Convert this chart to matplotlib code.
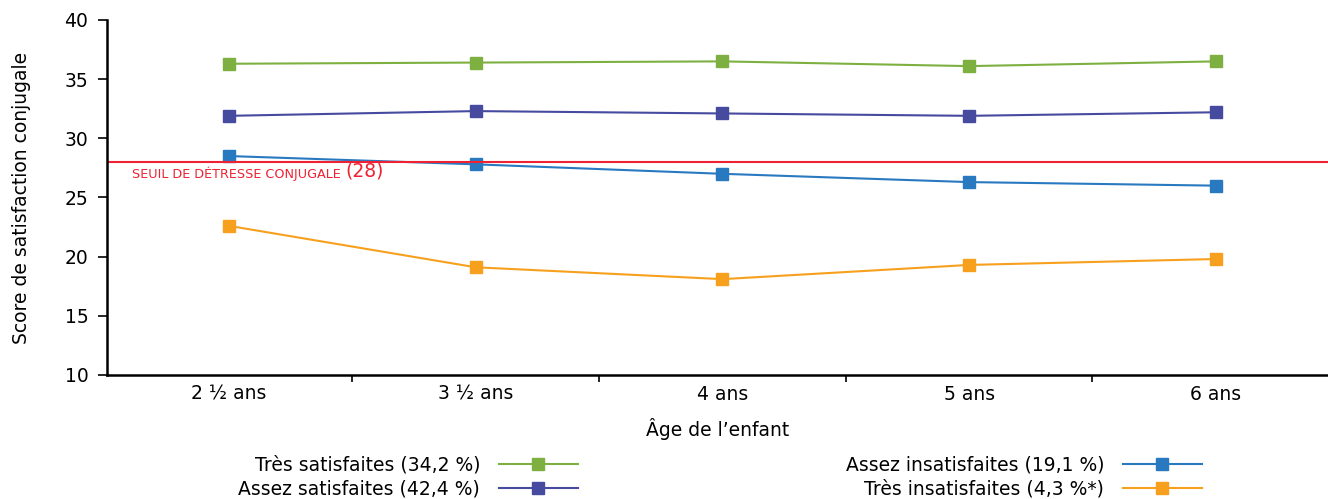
import numpy as np
import matplotlib.pyplot as plt

ages = ["2 ½ ans", "3 ½ ans", "4 ans", "5 ans", "6 ans"]

tres_satisfaites = [36.3, 36.4, 36.5, 36.1, 36.5]
assez_satisfaites = [31.9, 32.3, 32.1, 31.9, 32.2]
assez_insatisfaites = [28.5, 27.8, 27.0, 26.3, 26.0]
tres_insatisfaites = [22.6, 19.1, 18.1, 19.3, 19.8]

labels = ["Très satisfaites (34,2 %)", "Assez satisfaites (42,4 %)",
          "Assez insatisfaites (19,1 %)", "Très insatisfaites (4,3 %*)"]
colors = ["#7EB041", "#474BA0", "#2979C1", "#F6A01E"]
seuil = 28

plt.rcParams['font.family'] = ['DejaVu Sans']
fs = 13.5

fig = plt.figure(figsize=(13.28, 4.99), dpi=100)
ax = fig.add_axes([0.0806, 0.2485, 0.9194, 0.7115])

x = np.arange(len(ages))
series = [tres_satisfaites, assez_satisfaites, assez_insatisfaites, tres_insatisfaites]
handles = []
for vals, c, lab in zip(series, colors, labels):
    h, = ax.plot(x, vals, color=c, lw=1.5, marker='s', ms=8.5, label=lab)
    handles.append(h)

ax.axhline(seuil, color="#EE2233", lw=1.5)
t1 = ax.text(-0.393, seuil - 0.35, "SEUIL DE DÉTRESSE CONJUGALE ", color="#EE2233",
             fontsize=9.2, va='top', ha='left')
ax.annotate("(28)", xy=(1, 0), xycoords=t1, color="#EE2233", fontsize=fs,
            va='bottom', ha='left')

ax.set_xlim(-0.495, 4.455)
ax.set_ylim(10, 40)
ax.set_yticks(range(10, 41, 5))
ax.set_xticks(x)
ax.set_xticklabels(ages, fontsize=fs)
ax.set_xticks(x[:-1] + 0.5, minor=True)
ax.tick_params(axis='x', which='major', length=0, pad=7)
ax.tick_params(axis='x', which='minor', length=5, width=1.2, direction='out')
ax.tick_params(axis='y', labelsize=fs, length=6.5, width=1.2, pad=7)
for s in ['top', 'right']:
    ax.spines[s].set_visible(False)
for s in ['left', 'bottom']:
    ax.spines[s].set_linewidth(1.8)

ax.set_ylabel("Score de satisfaction conjugale", fontsize=fs, labelpad=24)
ax.set_xlabel("Âge de l’enfant", fontsize=fs, labelpad=10)

legend_kw = dict(loc='upper right', frameon=False, markerfirst=False,
                 fontsize=fs, handlelength=4.2, labelspacing=0.25,
                 borderpad=0, handletextpad=1.0)
leg1 = fig.legend(handles[:2], labels[:2],
                  bbox_to_anchor=(587 / 1328, 1 - 446 / 499), **legend_kw)
leg2 = fig.legend(handles[2:], labels[2:],
                  bbox_to_anchor=(1211 / 1328, 1 - 446 / 499), **legend_kw)

fig.savefig("out.png", dpi=100)
